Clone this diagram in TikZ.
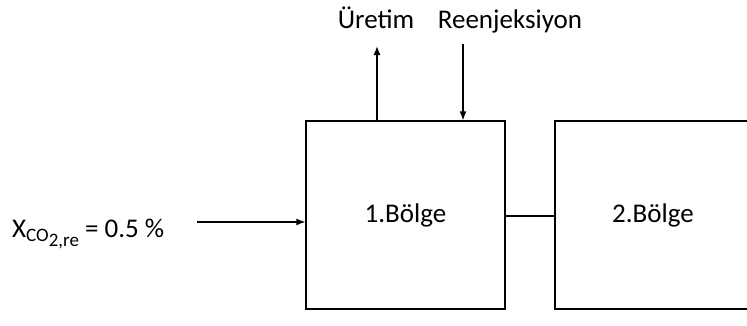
\documentclass[tikz,border=0pt]{standalone}
\usepackage{fontspec}
\setmainfont{Carlito}
\usetikzlibrary{arrows.meta}
\begin{document}
\begin{tikzpicture}[x=1pt,y=-1pt,
  zone/.style={draw,line width=1.3pt,minimum width=199pt,minimum height=188pt,inner sep=0pt,font=\fontsize{27}{32}\selectfont},
  lbl/.style={inner sep=0pt,font=\fontsize{27}{32}\selectfont},
  flow/.style={line width=1.3pt,-{Latex[length=9pt,width=7pt]}}]
\useasboundingbox (0,0) rectangle (747,325);
\clip (0,0) rectangle (747,325);
\node[zone] (b1) at (405.5,215) {1.Bölge};
\node[zone,minimum width=196pt] (b2) at (653,215) {2.Bölge};
\node[lbl,anchor=base] (ur) at (376,28) {Üretim};
\node[lbl,anchor=base] (re) at (510,28) {Reenjeksiyon};
\node[lbl,anchor=base west] (x) at (12,237) {X\raisebox{-4pt}{\fontsize{19}{22}\selectfont CO}\raisebox{-9pt}{\fontsize{19}{22}\selectfont 2,re} = 0.5 \%};
\coordinate (urend) at (377,46);
\coordinate (restart) at (463,44);
\coordinate (xstart) at (197,222);
\draw[flow] (b1.north -| urend) -- (urend);
\draw[flow] (restart) -- (restart |- b1.north);
\draw[flow] (xstart) -- (xstart -| b1.west);
\draw[line width=1.3pt] (b1.east |- 0,216) -- (b2.west |- 0,216);
\end{tikzpicture}
\end{document}
